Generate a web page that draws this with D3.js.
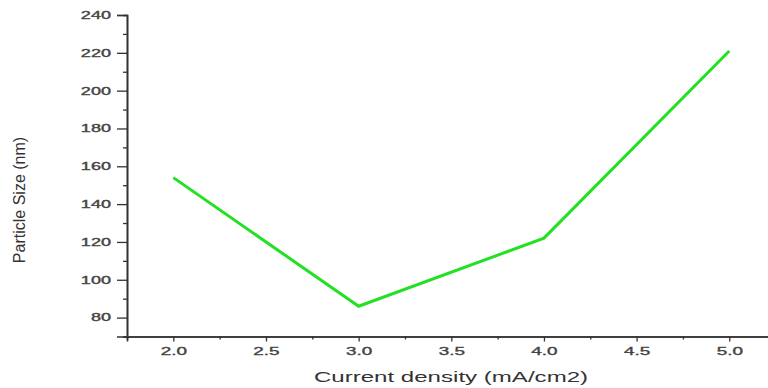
<!DOCTYPE html>
<html>
<head>
<meta charset="utf-8">
<script src="https://cdn.jsdelivr.net/npm/d3@7"></script>
<style>
  body { margin: 0; background: #fff; }
  svg { display: block; }
</style>
</head>
<body>
<div id="chart"></div>
<script>
// values
var currentDensity = [2.0, 3.0, 4.0, 5.0];
var particleSize = [154, 86, 122, 221];
var xTicks = [2.0, 2.5, 3.0, 3.5, 4.0, 4.5, 5.0];
var yTicks = [80, 100, 120, 140, 160, 180, 200, 220, 240];

var width = 768, height = 388;
var stretch = 1.72; // the source picture is squashed horizontally

var svg = d3.select("#chart").append("svg")
  .attr("width", width)
  .attr("height", height);

var x = d3.scaleLinear().domain([1.75, 5.25]).range([127, 775.6]);
var y = d3.scaleLinear().domain([70, 240]).range([336.5, 15]);

// minor ticks first so the major ones sit on top
var xMinor = d3.range(1.75, 5.26, 0.25).filter(function(v) { return xTicks.indexOf(+v.toFixed(2)) < 0; });
var yMinor = d3.range(70, 241, 10).filter(function(v) { return yTicks.indexOf(v) < 0; });

var gx = svg.append("g").attr("transform", "translate(0," + y(70) + ")");
gx.call(d3.axisBottom(x).tickValues(xMinor).tickSize(3).tickFormat(""));
gx.append("g").call(d3.axisBottom(x).tickValues(xTicks).tickSize(5).tickPadding(6)
  .tickFormat(d3.format(".1f")));

var gy = svg.append("g").attr("transform", "translate(" + x(1.75) + ",0)");
gy.call(d3.axisLeft(y).tickValues(yMinor).tickSize(4).tickFormat(""));
gy.append("g").call(d3.axisLeft(y).tickValues(yTicks).tickSize(10).tickFormat(d3.format("d")));

svg.selectAll(".domain").attr("stroke", "#333").attr("stroke-width", 1.6);
svg.selectAll(".tick line").attr("stroke", "#333").attr("stroke-width", 1.3);

gx.selectAll(".tick text")
  .attr("fill", "#444")
  .attr("stroke", "#444")
  .attr("stroke-width", 0.35)
  .style("font-family", "Liberation Sans, Arial, sans-serif")
  .style("font-size", "11px")
  .attr("transform", "scale(" + stretch + ",1)");

gy.selectAll(".tick text")
  .attr("fill", "#444")
  .attr("stroke", "#444")
  .attr("stroke-width", 0.35)
  .style("font-family", "Liberation Sans, Arial, sans-serif")
  .style("font-size", "10.5px")
  .attr("x", 0)
  .attr("transform", "translate(-16,0) scale(" + stretch + ",1)");

// line
var line = d3.line()
  .x(function(d, i) { return x(currentDensity[i]); })
  .y(function(d) { return y(d); });

svg.append("path")
  .datum(particleSize)
  .attr("fill", "none")
  .attr("stroke", "#22e022")
  .attr("stroke-width", 3)
  .attr("stroke-linejoin", "miter")
  .attr("d", line);

// axis titles
svg.append("text")
  .attr("transform", "translate(451,382) scale(" + stretch + ",1)")
  .attr("text-anchor", "middle")
  .attr("fill", "#333")
  .style("font-family", "Liberation Sans, Arial, sans-serif")
  .style("font-size", "14px")
  .text("Current density (mA/cm2)");

svg.append("text")
  .attr("transform", "translate(25,200) rotate(-90)")
  .attr("text-anchor", "middle")
  .attr("fill", "#333")
  .style("font-family", "Liberation Sans, Arial, sans-serif")
  .style("font-size", "16px")
  .text("Particle Size (nm)");
</script>
</body>
</html>
